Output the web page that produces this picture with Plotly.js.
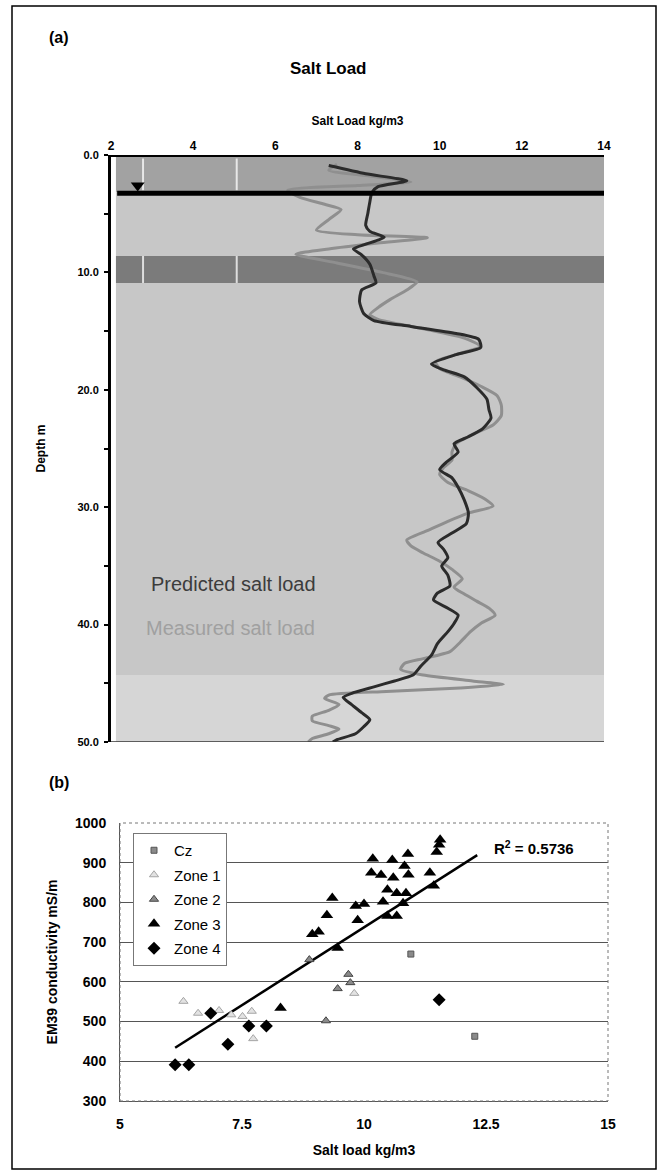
<!DOCTYPE html>
<html>
<head>
<meta charset="utf-8">
<script src="https://cdn.plot.ly/plotly-3.0.1.min.js"></script>
<style>html,body{margin:0;padding:0;background:#fff;}#chart{width:661px;height:1173px;}</style>
</head>
<body>
<div id="chart"></div>
<script>
// ---------- Panel (a): salt load profile ----------
const predDepth = [0.9,1.6,2.2,2.7,3.2,4.0,5.0,6.0,6.5,7.0,7.6,8.0,8.5,9.3,10.3,10.9,11.5,12.5,13.5,14.1,14.6,15.2,15.7,16.4,17.0,17.8,18.3,18.9,19.8,20.8,21.7,22.4,23.3,24.0,24.6,25.3,26.2,26.8,27.5,28.3,29.4,30.5,31.4,32.2,33.0,33.6,34.3,35.0,35.8,36.7,37.3,37.9,38.6,39.2,39.9,40.6,41.6,42.6,43.5,44.3,44.8,45.3,45.8,46.2,46.8,47.5,48.1,48.7,49.3,49.8,50.0];
const predLoad  = [7.3,8.2,9.2,8.5,8.35,8.3,8.25,8.2,8.3,8.65,8.2,7.9,8.1,8.3,8.4,8.45,8.1,8.05,8.15,8.4,9.3,10.4,10.95,11.0,10.4,9.8,10.1,10.6,10.9,11.15,11.2,11.25,11.05,10.7,10.35,10.45,10.15,10.0,10.3,10.45,10.6,10.7,10.65,10.3,9.96,10.1,10.2,10.05,10.2,10.25,9.95,9.85,10.2,10.45,10.35,10.2,9.95,9.8,9.55,9.35,8.9,8.4,7.9,7.65,7.85,8.1,8.3,8.15,7.95,7.5,7.4];

const measDepth = [0.8,1.3,1.8,2.3,2.6,3.0,3.6,4.2,4.65,5.5,6.4,6.8,7.05,7.5,8.0,8.45,9.2,10.0,10.8,11.5,12.3,13.0,13.6,14.0,14.8,15.6,16.3,16.9,17.6,18.2,18.9,19.7,20.5,21.3,22.2,23.0,23.8,24.6,25.3,26.0,26.6,27.2,27.9,28.6,29.3,29.9,30.5,31.2,32.0,32.8,33.3,33.9,34.6,35.3,36.1,36.8,37.4,38.0,38.6,39.2,39.9,40.6,41.5,42.3,42.9,43.3,43.8,44.3,44.8,45.1,45.4,45.7,46.0,46.3,46.8,47.3,47.8,48.2,48.6,48.9,49.3,49.7,50.0];
const measLoad  = [7.5,7.3,8.3,9.3,8.0,6.3,6.6,7.2,7.6,7.3,7.0,8.0,9.7,8.5,7.3,6.5,7.5,8.6,9.45,9.2,8.8,8.5,8.3,8.5,9.6,10.6,11.0,10.5,9.9,10.0,10.5,11.0,11.4,11.5,11.5,11.3,10.8,10.4,10.3,10.3,10.1,10.0,10.2,10.7,11.1,11.3,10.7,10.2,9.7,9.2,9.3,9.6,10.0,10.3,10.55,10.35,10.6,10.9,11.2,11.35,11.0,10.75,10.5,10.25,9.6,9.15,9.05,9.6,10.8,11.55,10.5,8.7,7.3,7.2,7.55,7.3,6.9,6.9,7.3,7.55,7.3,6.9,6.8];

const salinityTicks = [2,4,6,8,10,12,14];

const waterTableDepth = 3.25;
const waterMarkX = [2.65];
const waterMarkY = [2.6];

// ---------- Panel (b): EM39 vs salt load ----------
const czX = [10.96, 12.27];
const czY = [670, 463];
const zone1X = [6.30, 6.60, 7.03, 7.28, 7.51, 7.70, 7.73, 9.80];
const zone1Y = [551, 521, 528, 517, 513, 526, 457, 571];
const zone2X = [8.88, 9.22, 9.46, 9.68, 9.72];
const zone2Y = [656, 502, 583, 619, 598];
const zone3X = [8.29, 8.94, 9.07, 9.24, 9.35, 9.46, 9.83, 9.87, 10.0, 10.15, 10.18, 10.35, 10.39, 10.48, 10.48, 10.58, 10.60, 10.67, 10.67, 10.80, 10.83, 10.86, 10.90, 10.91, 11.35, 11.43, 11.49, 11.54, 11.56];
const zone3Y = [534, 720, 726, 768, 811, 685, 791, 755, 796, 875, 910, 869, 802, 832, 766, 907, 862, 766, 823, 798, 892, 823, 922, 870, 875, 842, 927, 945, 958];
const zone4X = [6.13, 6.41, 6.86, 7.21, 7.64, 8.00, 11.54];
const zone4Y = [391, 391, 521, 443, 489, 489, 555];
const trendX = [6.13, 12.32];
const trendY = [434, 919];
const rSquared = '0.5736';
const bTicks = [5, 7.5, 10, 12.5, 15];
const bTickText = ['5', '7.5', '10', '12.5', '15'];

const W = 661, H = 1173;
const px = v => v / W;
const py = v => 1 - v / H;
const narrow = 'Liberation Sans Narrow, Arial Narrow, Liberation Sans, Arial, sans-serif';
const sans = 'Liberation Sans, Arial, sans-serif';

const traces = [
  {x: measLoad, y: measDepth, xaxis:'x', yaxis:'y', mode:'lines', line:{color:'#8f8f8f', width:3, shape:'spline', smoothing:0.6}, showlegend:false, hoverinfo:'skip'},
  {x: predLoad, y: predDepth, xaxis:'x', yaxis:'y', mode:'lines', line:{color:'#2b2b2b', width:3, shape:'spline', smoothing:0.6}, showlegend:false, hoverinfo:'skip'},
  {x: waterMarkX, y: waterMarkY, xaxis:'x', yaxis:'y', mode:'markers', marker:{symbol:'triangle-down', size:12, color:'#000'}, showlegend:false, hoverinfo:'skip'},

  {x: trendX, y: trendY, xaxis:'x2', yaxis:'y2', mode:'lines', line:{color:'#000', width:2.5}, showlegend:false, hoverinfo:'skip'},
  {x: czX, y: czY, xaxis:'x2', yaxis:'y2', mode:'markers', name:'Cz', legendgroup:'a', marker:{symbol:'square', size:6, color:'#8a8a8a', line:{color:'#555', width:1}}},
  {x: zone1X, y: zone1Y, xaxis:'x2', yaxis:'y2', mode:'markers', name:'Zone 1', legendgroup:'b', marker:{symbol:'triangle-up', size:8, color:'#e2e2e2', line:{color:'#a5a5a5', width:1}}},
  {x: zone2X, y: zone2Y, xaxis:'x2', yaxis:'y2', mode:'markers', name:'Zone 2', legendgroup:'c', marker:{symbol:'triangle-up', size:8, color:'#8a8a8a', line:{color:'#444', width:1}}},
  {x: zone3X, y: zone3Y, xaxis:'x2', yaxis:'y2', mode:'markers', name:'Zone 3', legendgroup:'d', marker:{symbol:'triangle-up', size:11, color:'#000'}},
  {x: zone4X, y: zone4Y, xaxis:'x2', yaxis:'y2', mode:'markers', name:'Zone 4', legendgroup:'e', marker:{symbol:'diamond', size:10, color:'#000'}}
];

const shapes = [
  {type:'rect', xref:'paper', yref:'paper', x0:px(12), x1:px(656), y0:py(1169), y1:py(6), line:{color:'#000', width:1.5}, fillcolor:'rgba(0,0,0,0)', layer:'below'},
  {type:'rect', xref:'x', yref:'y', x0:2.12, x1:14, y0:0, y1:3.2, fillcolor:'#a2a2a2', line:{width:0}, layer:'below'},
  {type:'rect', xref:'x', yref:'y', x0:2.12, x1:14, y0:3.2, y1:8.6, fillcolor:'#c7c7c7', line:{width:0}, layer:'below'},
  {type:'rect', xref:'x', yref:'y', x0:2.12, x1:14, y0:8.6, y1:10.9, fillcolor:'#7b7b7b', line:{width:0}, layer:'below'},
  {type:'rect', xref:'x', yref:'y', x0:2.12, x1:14, y0:10.9, y1:44.3, fillcolor:'#c7c7c7', line:{width:0}, layer:'below'},
  {type:'rect', xref:'x', yref:'y', x0:2.12, x1:14, y0:44.3, y1:50, fillcolor:'#d6d6d6', line:{width:0}, layer:'below'},
  {type:'line', xref:'x', yref:'y', x0:2.78, x1:2.78, y0:0.3, y1:3.0, line:{color:'rgba(255,255,255,0.75)', width:2}, layer:'below'},
  {type:'line', xref:'x', yref:'y', x0:5.06, x1:5.06, y0:0.3, y1:3.0, line:{color:'rgba(255,255,255,0.75)', width:2}, layer:'below'},
  {type:'line', xref:'x', yref:'y', x0:2.78, x1:2.78, y0:8.6, y1:10.9, line:{color:'rgba(255,255,255,0.75)', width:2}, layer:'below'},
  {type:'line', xref:'x', yref:'y', x0:5.06, x1:5.06, y0:8.6, y1:10.9, line:{color:'rgba(255,255,255,0.75)', width:2}, layer:'below'},
  {type:'line', xref:'x', yref:'y', x0:2, x1:14, y0:0, y1:0, line:{color:'#000', width:4}},
  {type:'line', xref:'x', yref:'y', x0:2, x1:14, y0:50, y1:50, line:{color:'#333', width:1.5}},
  {type:'line', xref:'x', yref:'y', x0:2.15, x1:14, y0:waterTableDepth, y1:waterTableDepth, line:{color:'#000', width:5}},
  {type:'rect', xref:'x2 domain', yref:'y2 domain', x0:0, x1:1, y0:0, y1:1, line:{color:'#777', width:1, dash:'dot'}, fillcolor:'rgba(0,0,0,0)'}
];

const annotations = [
  {text:'<b>(a)</b>', xref:'paper', yref:'paper', x:px(47), y:py(27), showarrow:false, font:{family:sans, size:16, color:'#000'}},
  {text:'<b>Salt Load</b>', xref:'paper', yref:'paper', x:px(328), y:py(57), showarrow:false, font:{family:narrow, size:17, color:'#000'}},
  {text:'<b>(b)</b>', xref:'paper', yref:'paper', x:px(47), y:py(793), showarrow:false, font:{family:sans, size:16, color:'#000'}},
  {text:'Predicted salt load', xref:'x', yref:'y', x:2.92, y:36.5, xanchor:'left', showarrow:false, font:{family:sans, size:20, color:'#3c3c3c'}},
  {text:'Measured salt load', xref:'x', yref:'y', x:2.8, y:40.3, xanchor:'left', showarrow:false, font:{family:sans, size:20, color:'#a0a0a0'}},
  {text:'<b>R<sup>2</sup> = ' + rSquared + '</b>', xref:'x2', yref:'y2', x:12.62, y:938, xanchor:'left', showarrow:false, font:{family:sans, size:15, color:'#000'}}
];

const layout = {
  width: W, height: H,
  margin:{l:0, r:0, t:0, b:0},
  paper_bgcolor:'#fff', plot_bgcolor:'rgba(0,0,0,0)',
  showlegend:true,
  legend:{x:px(133), y:py(833), xanchor:'left', yanchor:'top', bgcolor:'#fff', bordercolor:'#777', borderwidth:1,
          font:{family:sans, size:15, color:'#000'}, traceorder:'grouped', tracegroupgap:2, itemwidth:30},
  xaxis:{domain:[px(111), px(604)], range:[2,14], side:'top', anchor:'y', tickvals:salinityTicks, ticks:'', showgrid:false, zeroline:false, showline:false,
         tickfont:{family:narrow, size:12, color:'#000', weight:'bold'}, ticklabelstandoff:2,
         title:{text:'<b>Salt Load kg/m3</b>', font:{family:narrow, size:12, color:'#000'}, standoff:10}},
  yaxis:{domain:[py(742), py(155)], range:[50,0], anchor:'x', tickmode:'linear', tick0:0, dtick:10, tickformat:'.1f',
         ticks:'outside', ticklen:4, tickwidth:2, tickcolor:'#000',
         minor:{tickmode:'linear', tick0:0, dtick:5, ticks:'outside', ticklen:4, tickwidth:2, tickcolor:'#000', showgrid:false},
         showgrid:false, zeroline:false, showline:true, linecolor:'#000', linewidth:3,
         tickfont:{family:narrow, size:11, color:'#000', weight:'bold'}, ticklabelstandoff:3,
         title:{text:'<b>Depth m</b>', font:{family:narrow, size:12, color:'#000'}, standoff:30}},
  xaxis2:{domain:[px(120), px(608)], range:[5,15], anchor:'y2', tickvals:bTicks, ticktext:bTickText, ticks:'', showgrid:false, zeroline:false,
          showline:true, linecolor:'#555', linewidth:1,
          tickfont:{family:sans, size:14, color:'#000', weight:'bold'}, ticklabelstandoff:10,
          title:{text:'<b>Salt load kg/m3</b>', font:{family:sans, size:14, color:'#000'}, standoff:14}},
  yaxis2:{domain:[py(1101), py(823)], range:[300,1000], anchor:'x2', dtick:100, ticks:'', showgrid:true, gridcolor:'#555', gridwidth:1, zeroline:false,
          showline:true, linecolor:'#555', linewidth:1,
          tickfont:{family:sans, size:14, color:'#000', weight:'bold'}, ticklabelstandoff:10,
          title:{text:'<b>EM39 conductivity mS/m</b>', font:{family:sans, size:14, color:'#000'}, standoff:14}},
  shapes: shapes,
  annotations: annotations
};

Plotly.newPlot('chart', traces, layout, {staticPlot:true, displayModeBar:false});
</script>
</body>
</html>
